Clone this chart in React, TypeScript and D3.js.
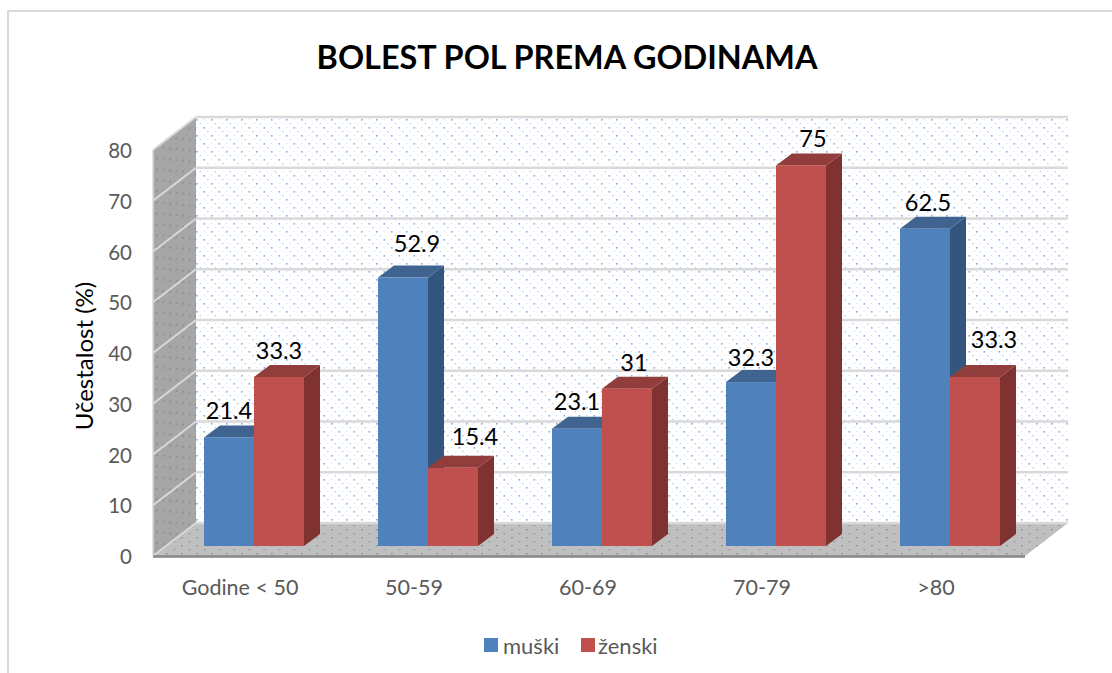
import React from "react";
import * as d3 from "d3";

const categories = ["Godine < 50", "50-59", "60-69", "70-79", ">80"];
const muski = [21.4, 52.9, 23.1, 32.3, 62.5];
const zenski = [33.3, 15.4, 31, 75, 33.3];
const ticks = [0, 10, 20, 30, 40, 50, 60, 70, 80];
const series = [
  { name: "muški", values: muski, front: "#4f81bd", top: "#3f648f", side: "#34557e", nudge: [{ x: 0, y: -27 }, { x: 14, y: -35 }, { x: 0, y: -28 }, { x: 0, y: -25 }, { x: 3, y: -27 }] },
  { name: "ženski", values: zenski, front: "#c0504d", top: "#913d3b", side: "#7f322f", nudge: [{ x: 0, y: -27 }, { x: 22, y: -32 }, { x: 7, y: -27 }, { x: 12, y: -27 }, { x: 19, y: -38 }] },
];

const W = 1112, H = 673;
const FONT = "Lato, 'Open Sans', sans-serif";
const x0 = 153, x1 = 1025, yBase = 556, yTop = 150;
const depthX = 43, depthY = -33;
const barDX = 16, barDY = -12;
const barBase = 546, barW = 50;

const xBand = d3.scaleBand<string>().domain(categories).range([x0, x0 + 870]);
const y = d3.scaleLinear().domain([0, 80]).range([yBase, yTop]);
const barH = d3.scaleLinear().domain([0, 80]).range([0, yBase - yTop]);
const pts = (p: number[][]) => p.map((q) => q.join(",")).join(" ");

export default function App() {
  const bw = xBand.bandwidth();
  const groupX = (c: string) => (xBand(c) as number) + 51;
  return (
    <svg width={W} height={H} style={{ position: "absolute", left: 0, top: 0, background: "#fff" }}>
      <defs>
        <pattern id="dotsBack" width="15" height="16" patternUnits="userSpaceOnUse" patternTransform="translate(196,117)">
          <rect x="0" y="2" width="1.6" height="1.6" fill="#86aee0" />
          <rect x="7.5" y="10" width="1.6" height="1.6" fill="#86aee0" />
          <rect x="3.7" y="6" width="1.3" height="1.3" fill="#adc8ea" />
          <rect x="11.2" y="14" width="1.3" height="1.3" fill="#adc8ea" />
          <rect x="0" y="10" width="1.1" height="1.1" fill="#cfdff2" />
          <rect x="7.5" y="2" width="1.1" height="1.1" fill="#cfdff2" />
          <rect x="3.7" y="14" width="1.1" height="1.1" fill="#dfe9f6" />
          <rect x="11.2" y="6" width="1.1" height="1.1" fill="#dfe9f6" />
        </pattern>
        <pattern id="dotsSide" width="13" height="11" patternUnits="userSpaceOnUse" patternTransform="skewY(-37)">
          <rect x="0" y="1" width="2" height="1.3" fill="#7b8494" />
          <rect x="6.5" y="6.5" width="2" height="1.3" fill="#818896" />
        </pattern>
        <pattern id="dotsFloor" width="15" height="8" patternUnits="userSpaceOnUse">
          <rect x="1" y="1" width="1.8" height="1.3" fill="#8592a8" />
          <rect x="8.5" y="5" width="1.8" height="1.3" fill="#929cae" />
        </pattern>
      </defs>

      {/* frame */}
      <path d={`M8,673 V11 H${W}`} fill="none" stroke="#d9d9d9" strokeWidth={2} />

      <text x={567} y={69} textAnchor="middle" fontFamily={FONT} fontWeight={700} fontSize={32.4} fill="#000">
        BOLEST POL PREMA GODINAMA
      </text>

      {/* back wall */}
      <rect x={x0 + depthX} y={yTop + depthY} width={x1 - x0} height={yBase - yTop} fill="url(#dotsBack)" />
      {/* side wall */}
      {["#a6a6a6", "url(#dotsSide)"].map((f) => (
        <polygon key={f} fill={f} points={pts([[x0, yBase], [x0, yTop], [x0 + depthX, yTop + depthY], [x0 + depthX, yBase + depthY]])} />
      ))}
      {/* floor */}
      {["#bfbfbf", "url(#dotsFloor)"].map((f) => (
        <polygon key={f} fill={f} points={pts([[x0, yBase], [x1, yBase], [x1 + depthX, yBase + depthY], [x0 + depthX, yBase + depthY]])} />
      ))}
      {/* gridlines */}
      {ticks.map((t) => (
        <g key={t} stroke="#d9d9d9" fill="none">
          <line x1={x0} y1={y(t)} x2={x0 + depthX} y2={y(t) + depthY} strokeWidth={2} />
          <line x1={x0 + depthX} y1={y(t) + depthY} x2={x1 + depthX} y2={y(t) + depthY} strokeWidth={2.5} />
        </g>
      ))}
      <line x1={x0} x2={x1} y1={yBase + 0.5} y2={yBase + 0.5} stroke="#868686" strokeWidth={2.5} />
      <line x1={x0} x2={x0} y1={yTop} y2={yBase} stroke="#d9d9d9" strokeWidth={1.5} />

      {/* bars */}
      {categories.map((c, i) => (
        <g key={c}>
          {series.map((s, k) => {
            const bx = groupX(c) + k * barW;
            const h = barH(s.values[i]);
            const ty = barBase - h;
            return (
              <g key={s.name}>
                <polygon fill={s.side} points={pts([[bx + barW, barBase], [bx + barW, ty], [bx + barW + barDX, ty + barDY], [bx + barW + barDX, barBase + barDY]])} />
                <polygon fill={s.top} points={pts([[bx, ty], [bx + barW, ty], [bx + barW + barDX, ty + barDY], [bx + barDX, ty + barDY]])} />
                <rect x={bx} y={ty} width={barW} height={h} fill={s.front} />
              </g>
            );
          })}
        </g>
      ))}

      {/* data labels */}
      {categories.map((c, i) =>
        series.map((s, k) => (
          <text key={c + s.name} x={groupX(c) + k * barW + barW / 2 + s.nudge[i].x} y={barBase - barH(s.values[i]) + s.nudge[i].y}
            dominantBaseline="central" textAnchor="middle" fontFamily={FONT} fontSize={23.5} fill="#000">
            {s.values[i]}
          </text>
        ))
      )}

      {/* y ticks */}
      {ticks.map((t) => (
        <text key={t} x={132} y={y(t)} textAnchor="end" dominantBaseline="central" fontFamily={FONT} fontSize={20.5} fill="#595959">{t}</text>
      ))}
      <text transform="translate(83,356) rotate(-90)" textAnchor="middle" dominantBaseline="central" fontFamily={FONT} fontSize={24} fill="#000">
        Učestalost (%)
      </text>

      {/* x labels */}
      {categories.map((c) => (
        <text key={c} x={(xBand(c) as number) + bw / 2} y={587} textAnchor="middle" dominantBaseline="central" fontFamily={FONT} fontSize={21.5} fill="#595959">{c}</text>
      ))}

      {/* legend */}
      <rect x={484} y={638} width={14} height={14} fill="#4f81bd" />
      <text x={503} y={645} dominantBaseline="central" fontFamily={FONT} fontSize={22} fill="#595959">muški</text>
      <rect x={581} y={638} width={14} height={14} fill="#c0504d" />
      <text x={598} y={645} dominantBaseline="central" fontFamily={FONT} fontSize={22} fill="#595959">ženski</text>
    </svg>
  );
}
